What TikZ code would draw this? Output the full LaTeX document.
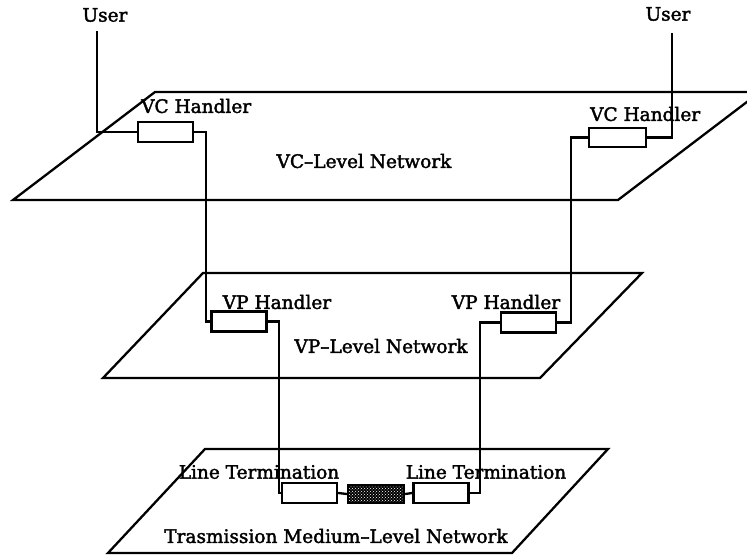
\documentclass[tikz,border=0pt]{standalone}
\usepackage{fontspec}
\setmainfont{DejaVu Serif}
\newfontfamily\lblfont{DejaVu Serif}[FakeBold=2]
\usetikzlibrary{patterns}
\begin{document}
\begin{tikzpicture}[x=1pt, y=-1pt, line width=2.3pt, line join=miter,
  lbl/.style={font=\lblfont\fontsize{18.5}{22}\selectfont, inner sep=0pt},
  handler/.style={draw, rectangle, line width=2.3pt, minimum width=55pt, minimum height=20pt, inner sep=0pt},
  medium/.style={draw, rectangle, line width=2.3pt, minimum width=56pt, minimum height=18pt, inner sep=0pt,
    preaction={fill=black}, pattern=crosshatch dots, pattern color=white},
  plane/.style={line width=2.3pt},
  wire/.style={line width=2.3pt}]
\useasboundingbox (0,0) rectangle (747,556);
\clip (0,0) rectangle (747,556);

% the three network planes
\draw[plane] (13,200) -- (618,200) -- (760,92) -- (155,92) -- cycle;
\draw[plane] (103,378) -- (540,378) -- (642,273) -- (203,273) -- cycle;
\draw[plane] (108,553) -- (512,553) -- (608,449) -- (205,449) -- cycle;

% handlers and terminations
\node[handler] (vcl) at (165.5,132) {};
\node[handler, minimum width=57pt, minimum height=19pt] (vcr) at (617.5,137.5) {};
\node[handler] (vpl) at (239,321.5) {};
\node[handler] (vpr) at (528.5,322.5) {};
\node[handler] (ltl) at (309.5,493) {};
\node[handler] (ltr) at (441,493) {};
\node[medium] (med) at (376,494) {};

% labels
\node[lbl] (userL) at (105,15) {User};
\node[lbl] (userR) at (668,14) {User};
\node[lbl, anchor=west] (vcltxt) at (140,106) {VC Handler};
\node[lbl, anchor=west] (vcrtxt) at (589,114) {VC Handler};
\node[lbl] (vcnet) at (364,161) {VC–Level Network};
\node[lbl] (vpltxt) at (277,302) {VP Handler};
\node[lbl] (vprtxt) at (506,302) {VP Handler};
\node[lbl] (vpnet) at (381,346) {VP–Level Network};
\node[lbl] (ltltxt) at (259,472) {Line Termination};
\node[lbl] (ltrtxt) at (486,472) {Line Termination};
\node[lbl] (tmnet) at (336,536) {Trasmission Medium–Level Network};

% user attachment points
\coordinate (uLtop) at (97,31);
\coordinate (uRtop) at (672,33);

% connection path through the levels
\draw[wire] (uLtop) |- (vcl.west);
\draw[wire] (vcl.east) -- ++(12,0) |- (vpl.west);
\draw[wire] (vpl.east) -- ++(11,0) |- (ltl.west);
\draw[wire] (ltl.east) -- (med.west);
\draw[wire] (med.east) -- (ltr.west);
\draw[wire] (ltr.east) -- ++(10,0) |- (vpr.west);
\draw[wire] (vpr.east) -- ++(14,0) |- (vcr.west);
\draw[wire] (vcr.east) -| (uRtop);
\end{tikzpicture}
\end{document}
